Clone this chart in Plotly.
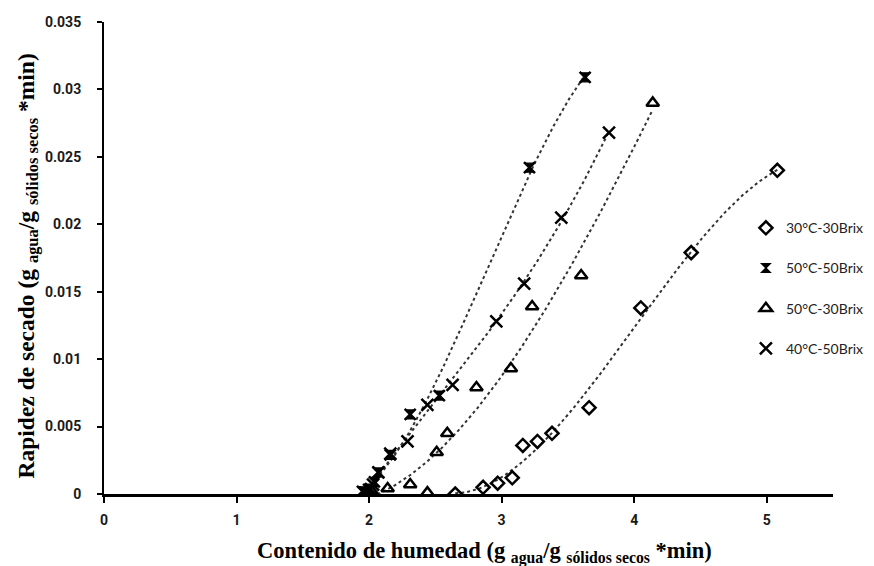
import numpy as np
import plotly.graph_objects as go

# ---- data ----
series_names = ["30°C-30Brix", "50°C-50Brix", "50°C-30Brix", "40°C-50Brix"]

x_30_30 = [2.65, 2.86, 2.97, 3.08, 3.16, 3.27, 3.38, 3.66, 4.05, 4.43, 5.08]
y_30_30 = [0.0000, 0.0005, 0.0008, 0.0012, 0.0036, 0.0039, 0.0045, 0.0064, 0.0138, 0.0179, 0.0240]

x_50_50 = [1.95, 1.98, 2.01, 2.04, 2.07, 2.16, 2.31, 2.53, 3.21, 3.63]
y_50_50 = [0.0002, 0.0001, 0.0004, 0.0009, 0.0016, 0.0029, 0.0059, 0.0073, 0.0242, 0.0309]

x_50_30 = [1.98, 2.02, 2.14, 2.31, 2.44, 2.51, 2.59, 2.81, 3.07, 3.23, 3.60, 4.14]
y_50_30 = [0.0001, 0.0002, 0.0004, 0.0007, 0.0001, 0.0031, 0.0045, 0.0079, 0.0093, 0.0139, 0.0162, 0.0290]

x_40_50 = [1.97, 2.00, 2.03, 2.07, 2.16, 2.29, 2.44, 2.63, 2.96, 3.17, 3.45, 3.81]
y_40_50 = [0.0001, 0.0003, 0.0007, 0.0016, 0.0030, 0.0039, 0.0066, 0.0081, 0.0128, 0.0156, 0.0205, 0.0268]

x_ticks = [0, 1, 2, 3, 4, 5]
x_ticktext = ["0", "1", "2", "3", "4", "5"]
y_ticks = [0, 0.005, 0.01, 0.015, 0.02, 0.025, 0.03, 0.035]
y_ticktext = ["0", "0.005", "0.01", "0.015", "0.02", "0.025", "0.03", "0.035"]

x_title = "<b>Contenido de humedad (g <sub>agua</sub>/g <sub>sólidos secos</sub> *min)</b>"
y_title = "<b>Rapidez de secado (g <sub>agua</sub>/g <sub>sólidos secos</sub> *min)</b>"

xs = [x_30_30, x_50_50, x_50_30, x_40_50]
ys = [y_30_30, y_50_50, y_50_30, y_40_50]
symbols = ["diamond-open", "hourglass", "triangle-up-open", "x-thin-open"]
sizes = [10, 9, 11, 12]
lwidths = [2.5, 1.2, 2.5, 2.5]

fig = go.Figure()

# polynomial (order 3) trendlines, like the spreadsheet trendlines
for i in range(4):
    xa = np.array(xs[i]); ya = np.array(ys[i])
    coef = np.polyfit(xa, ya, 3)
    xt = np.linspace(xa.min(), xa.max(), 200)
    yt = np.polyval(coef, xt)
    fig.add_trace(go.Scatter(x=xt, y=yt, mode="lines",
                             line=dict(color="#333333", width=2, dash="dot"),
                             showlegend=False, hoverinfo="skip"))

for i in range(4):
    fig.add_trace(go.Scatter(
        x=xs[i], y=ys[i], mode="markers", name=series_names[i],
        legendgroup=series_names[i],
        marker=dict(symbol=symbols[i], size=sizes[i], color="black",
                    line=dict(color="black", width=lwidths[i]))))
    if i == 1:
        # star-like overlay for the 50°C-50Brix markers
        fig.add_trace(go.Scatter(
            x=xs[i], y=ys[i], mode="markers", legendgroup=series_names[i],
            showlegend=False, hoverinfo="skip",
            marker=dict(symbol="x-thin-open", size=11, color="black",
                        line=dict(color="black", width=2.5))))

tick_font = dict(family="Roboto", size=14, color="#1a1a1a")

fig.update_layout(
    width=874, height=566,
    margin=dict(l=104, r=4, t=22, b=72),
    paper_bgcolor="white", plot_bgcolor="white",
    showlegend=True,
    legend=dict(x=0.838, y=0.436, xanchor="left", yanchor="middle",
                font=dict(family="Lato", size=14, color="#222222"),
                tracegroupgap=19, bgcolor="rgba(0,0,0,0)",
                itemwidth=30),
    xaxis=dict(range=[0, 5.5], domain=[0, 729 / 766], tickvals=x_ticks,
               ticktext=["<b>%s</b>" % t for t in x_ticktext],
               ticks="outside", ticklen=6,
               tickwidth=1.5, tickcolor="black",
               showline=True, linecolor="black", linewidth=2.5,
               showgrid=False, zeroline=False, tickfont=tick_font,
               ticklabelstandoff=5),
    yaxis=dict(range=[0, 0.035], tickvals=y_ticks,
               ticktext=["<b>%s</b>" % t for t in y_ticktext],
               ticks="outside", ticklen=5, tickwidth=1.5, tickcolor="black",
               showline=True, linecolor="black", linewidth=2,
               showgrid=False, zeroline=False, tickfont=tick_font,
               ticklabelstandoff=13),
    annotations=[
        dict(text=y_title, textangle=-90, xref="paper", yref="paper",
             x=-76 / 766, y=0.482, xanchor="center", yanchor="middle",
             showarrow=False,
             font=dict(family="Liberation Serif", size=23.5, color="black")),
        dict(text=x_title, xref="paper", yref="paper",
             x=380 / 766, y=-58 / 472, xanchor="center", yanchor="middle",
             showarrow=False,
             font=dict(family="Liberation Serif", size=22.5, color="black")),
    ],
)

fig.write_html("out.html")
